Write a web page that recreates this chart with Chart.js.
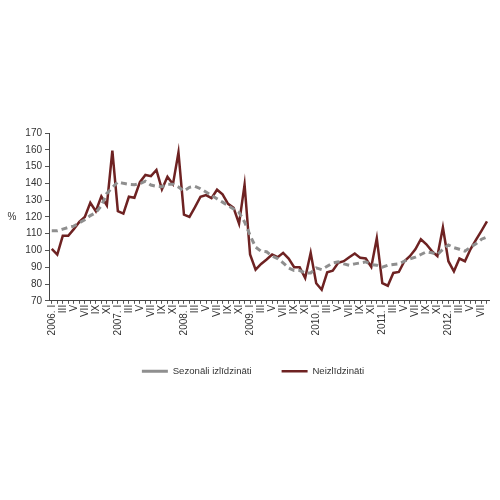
<!DOCTYPE html>
<html>
<head>
<meta charset="utf-8">
<script src="https://cdn.jsdelivr.net/npm/chart.js@4"></script>
<style>
  html, body { margin: 0; padding: 0; background: #fff; }
  #wrap { width: 500px; height: 500px; }
</style>
</head>
<body>
<div id="wrap"><canvas id="myChart"></canvas></div>
<script>
// months I..XII, monthly data 2006.I - 2012.VIII
var romanMonths = ['I', 'II', 'III', 'IV', 'V', 'VI', 'VII', 'VIII', 'IX', 'X', 'XI', 'XII']
var firstYear = 2006
var monthCount = 80

var adjusted = [
    111.7, 111.7, 112.7, 113.7, 114.5, 116.5, 118.3, 120.8, 122.6, 126.6, 134, 137.5,
    140.8, 140, 139.4, 139.2, 139.8, 141.3, 139, 138.2, 138, 139.5, 139.5, 137.8,
    135.4, 137.6, 138.2, 136.8, 134.8, 132.8, 130.8, 128.8, 126.8, 124.7, 122.7, 117,
    109, 102, 99.5, 99.2, 96.6, 95.2, 92.6, 89.6, 88, 88, 86.6, 86.6,
    89.6, 88.6, 90.6, 92.6, 93.2, 92, 91.2, 92, 92.6, 93.2, 91.6, 91.2,
    90, 91.2, 91.6, 92, 93.6, 95, 96, 97.6, 99.2, 98.6, 97.6, 100.7,
    103.3, 101.7, 100.7, 99.6, 102, 104, 106.7, 108
]

var unadjusted = [
    101, 97.6, 108.7, 108.7, 112.7, 117, 120, 128.4, 123.4, 132.2, 126.8, 159.5,
    123.4, 122, 132, 131.4, 140.7, 145, 144.3, 148, 136.4, 143.9, 139.5, 158.5,
    121.4, 120, 125.8, 132, 133, 131.2, 136.2, 133.4, 127.8, 125.4, 116, 139.2,
    97.6, 88.6, 92, 94.6, 97.6, 96, 98.6, 95.2, 90, 90, 83.6, 98.6,
    80.5, 76.6, 87, 88, 92.6, 93.6, 96, 98.2, 95.6, 95.2, 90.2, 107.3,
    80.5, 79, 86.6, 87.2, 93.6, 96.6, 100.7, 106.7, 103.7, 99.6, 96.6, 113.7,
    93.6, 87.6, 95.2, 93.6, 100.7, 106.3, 111.7, 117.3
]

var categories = []
for (let i = 0; i < monthCount; i++) {
    let m = i % 12
    let y = firstYear + Math.floor(i / 12)
    categories.push(m === 0 ? y + '. ' + romanMonths[m] : romanMonths[m])
}

var fontName = "'Liberation Sans', Arial, sans-serif"

// "%" next to the y axis, upright
const percentLabel = {
    id: 'percentLabel',
    afterDraw(chart) {
        let ctx = chart.ctx
        let area = chart.chartArea
        ctx.save()
        ctx.font = '10px ' + fontName
        ctx.fillStyle = '#333'
        ctx.textAlign = 'center'
        ctx.textBaseline = 'middle'
        ctx.fillText('%', 12, (area.top + area.bottom) / 2)
        ctx.restore()
    }
}

let ctx = document.getElementById('myChart').getContext('2d')

let myChart = new Chart(ctx, {
    type: 'line',
    data: {
        labels: categories,
        datasets: [{
            label: 'Sezonāli izlīdzināti',
            data: adjusted,
            borderColor: '#8f8f8f',
            backgroundColor: '#8f8f8f',
            borderWidth: 3,
            borderDash: [6, 4],
            pointRadius: 0,
            tension: 0
        }, {
            label: 'Neizlīdzināti',
            data: unadjusted,
            borderColor: '#6e2222',
            backgroundColor: '#6e2222',
            borderWidth: 2.5,
            pointRadius: 0,
            tension: 0
        }]
    },
    options: {
        responsive: true,
        maintainAspectRatio: false,
        animation: false,
        layout: {
            padding: { top: 133, bottom: 114, left: 10, right: 4 }
        },
        plugins: {
            tooltip: { enabled: false },
            legend: {
                position: 'bottom',
                labels: {
                    boxWidth: 26,
                    boxHeight: 0,
                    padding: 30,
                    color: '#333',
                    font: { family: fontName, size: 9.6 }
                }
            }
        },
        scales: {
            x: {
                offset: true,
                grid: {
                    display: true,
                    drawOnChartArea: false,
                    tickLength: 3,
                    color: '#555'
                },
                border: { color: '#444', width: 1 },
                ticks: {
                    autoSkip: false,
                    minRotation: 90,
                    maxRotation: 90,
                    padding: 1,
                    color: '#333',
                    font: { family: fontName, size: 10 },
                    callback: function(value, index) {
                        return index % 2 === 0 ? this.getLabelForValue(value) : ''
                    }
                }
            },
            y: {
                min: 70,
                max: 170,
                afterFit: function(scale) { scale.width = 39 },
                grid: {
                    display: true,
                    drawOnChartArea: false,
                    tickLength: 4,
                    color: '#555'
                },
                border: { color: '#444', width: 1 },
                ticks: {
                    stepSize: 10,
                    padding: 3,
                    color: '#333',
                    font: { family: fontName, size: 10 }
                }
            }
        }
    },
    plugins: [percentLabel]
})
</script>
</body>
</html>
